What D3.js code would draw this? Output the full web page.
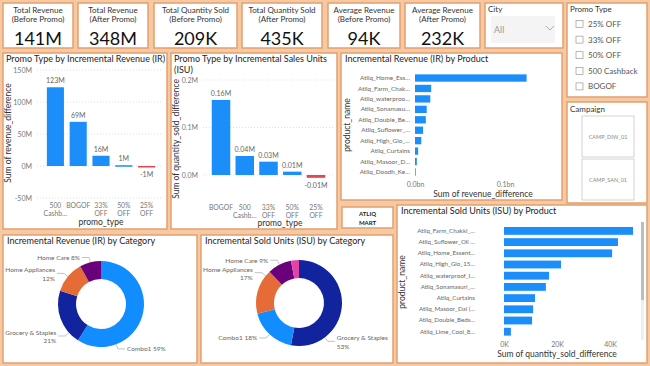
<!DOCTYPE html>
<html><head><meta charset="utf-8">
<script src="https://cdn.jsdelivr.net/npm/d3@7"></script>
<style>
html,body{margin:0;padding:0;background:#F7C9A2;}
svg{display:block;}
text{font-family:Lato,"DejaVu Sans",sans-serif;}
</style></head><body>
<svg id="c" width="650" height="366"></svg>
<script>
// ---------------- data ----------------
const kpiTitles = ["Total Revenue|(Before Promo)","Total Revenue|(After Promo)","Total Quantity Sold|(Before Promo)","Total Quantity Sold|(After Promo)","Average Revenue|(Before Promo)","Average Revenue|(After Promo)"];
const kpiValues = [141e6, 348e6, 209e3, 435e3, 94e3, 232e3];
const cityOptions = ["All"];
const promoOptions = ["25% OFF","33% OFF","50% OFF","500 Cashback","BOGOF"];
const campaigns = ["CAMP_DIW_01","CAMP_SAN_01"];

const irPromoTypes = ["500 Cashback","BOGOF","33% OFF","50% OFF","25% OFF"];
const irPromoValues = [123e6, 69e6, 16e6, 1.2e6, -1.1e6];
const irPromoTicks = [-50e6, 0, 50e6, 100e6, 150e6];

const isuPromoTypes = ["BOGOF","500 Cashback","33% OFF","50% OFF","25% OFF"];
const isuPromoValues = [158e3, 40e3, 28e3, 7e3, -6e3];
const isuPromoTicks = [0, 0.1e6, 0.2e6];

const irProducts = ["Atliq_Home_Ess…","Atliq_Farm_Chak…","Atliq_waterproo…","Atliq_Sonamasu…","Atliq_Double_Be…","Atliq_Suflower_…","Atliq_High_Glo_…","Atliq_Curtains","Atliq_Masoor_D…","Atliq_Doodh_Ke…"];
const irProductValues = [124e6, 18e6, 17e6, 13e6, 12e6, 9e6, 7e6, 3.5e6, 2e6, 0.8e6];
const irProductTicks = [0, 0.1e9];

const isuProducts = ["Atliq_Farm_Chakki_…","Atliq_Suflower_Oil …","Atliq_Home_Essent…","Atliq_High_Glo_15…","Atliq_waterproof_I…","Atliq_Sonamasuri_…","Atliq_Curtains","Atliq_Masoor_Dal (…","Atliq_Double_Beds…","Atliq_Lime_Cool_8…"];
const isuProductValues = [48.7e3, 43e3, 40.8e3, 21.5e3, 17e3, 15.8e3, 11.7e3, 11e3, 10.6e3, 2.6e3];
const isuProductTicks = [0, 20e3, 40e3];

const irCategories = ["Combo1","Grocery & Staples","Home Appliances","Home Care"];
const irCategoryShares = [59, 21, 12, 8];
const isuCategories = ["Grocery & Staples","Combo1","Home Appliances","Home Care","Personal Care"];
const isuCategoryShares = [53, 18, 17, 9, 3];

// ---------------- style ----------------
const BORDER = "#E2A06E", BLUE = "#1C8EFA", RED = "#E0474F";
const GRAY = "#666", DARK = "#252423";
const catColor = d3.scaleOrdinal()
  .domain(["Combo1","Grocery & Staples","Home Appliances","Home Care","Personal Care"])
  .range(["#118DFF","#12239E","#E66C37","#6B007B","#E044A7"]);

const svg = d3.select("#c");

function panel(x,y,w,h){
  svg.append("rect").attr("x",x).attr("y",y).attr("width",w).attr("height",h)
    .attr("fill","#fff").attr("stroke",BORDER).attr("stroke-width",1.5);
}
function txt(x,y,s,size,color,anchor,weight){
  return svg.append("text").attr("x",x).attr("y",y).text(s)
    .attr("font-size",size).attr("fill",color||DARK)
    .attr("text-anchor",anchor||"start").attr("font-weight",weight||"normal");
}
function fit(node,maxW){
  const t=d3.select(node); let s=t.text();
  if(node.getComputedTextLength()<=maxW) return;
  while(s.length>1 && node.getComputedTextLength()>maxW){ s=s.slice(0,-1); t.text(s.trimEnd()+"…"); }
}
const fmtKPI = v => v>=1e6 ? Math.round(v/1e6)+"M" : Math.round(v/1e3)+"K";

// ---------------- KPI cards ----------------
const cardX=[3,78,154,242,328,405], cardW=[70,70,83,80,72,75];
kpiTitles.forEach((t,i)=>{
  panel(cardX[i],3,cardW[i],45);
  const cx=cardX[i]+cardW[i]/2, L=t.split("|");
  txt(cx,12.5,L[0],8,"#333","middle");
  txt(cx,21.5,L[1],8,"#333","middle");
  txt(cx,45,fmtKPI(kpiValues[i]),18,"#111","middle");
});

// City slicer
panel(485,3,78,45);
txt(488,12,"City",8,"#333");
svg.append("rect").attr("x",491).attr("y",16).attr("width",64).attr("height",27).attr("fill","#F4F4F4");
txt(494,33,cityOptions[0],9,"#999");
svg.append("path").attr("d","M546,26 L550,30 L554,26").attr("fill","none").attr("stroke","#999").attr("stroke-width",0.8);

// Promo type slicer
panel(567,3,80,94);
txt(570,12,"Promo Type",8,"#333");
promoOptions.forEach((p,i)=>{
  const cy=24+i*15.6;
  svg.append("rect").attr("x",576).attr("y",cy-3.5).attr("width",7).attr("height",7)
    .attr("fill","#fff").attr("stroke","#888").attr("stroke-width",0.6);
  txt(588,cy+3,p,8,"#555");
});

// Campaign slicer
panel(567,102,80,101);
txt(570,112,"Campaign",8,"#333");
campaigns.forEach((c,i)=>{
  const y=116+i*43;
  svg.append("rect").attr("x",582).attr("y",y).attr("width",52).attr("height",41)
    .attr("fill","#fff").attr("stroke","#C8C8C8").attr("stroke-width",0.8);
  txt(608,y+22.5,c,5.5,"#888","middle");
});

// ATLIQ MART
panel(342,207,51,21);
txt(367.5,215.5,"ATLIQ",6,"#222","middle","bold");
txt(367.5,224.5,"MART",6,"#222","middle","bold");

// ---------------- vertical bar charts ----------------
function vbar(o){
  panel(o.px,o.py,o.pw,o.ph);
  o.title.forEach((t,i)=>txt(o.px+3,o.py+8.5+i*11,t,9,DARK));
  const x=d3.scaleBand().domain(o.cats).range(o.xr).paddingInner(o.pi).paddingOuter(o.po);
  const y=d3.scaleLinear().domain(o.yd).range(o.yr);
  const g=svg.append("g");
  g.selectAll("line.grid").data(o.ticks).join("line")
    .attr("x1",o.gx[0]).attr("x2",o.gx[1]).attr("y1",d=>y(d)).attr("y2",d=>y(d))
    .attr("stroke","#C8C8C8").attr("stroke-width",0.6).attr("stroke-dasharray","1,2");
  const ya=d3.axisLeft(y).tickValues(o.ticks).tickFormat(o.tf).tickSize(0).tickPadding(0);
  const yg=svg.append("g").attr("transform",`translate(${o.yax},0)`).call(ya);
  yg.select(".domain").remove();
  yg.selectAll("text").attr("font-size",7).attr("fill","#777").attr("font-family","Lato");
  g.selectAll("rect.bar").data(o.vals).join("rect")
    .attr("x",(d,i)=>x(o.cats[i])).attr("width",x.bandwidth())
    .attr("y",d=>y(Math.max(0,d))).attr("height",d=>Math.max(1.5,Math.abs(y(d)-y(0))))
    .attr("fill",d=>d<0?RED:BLUE);
  g.selectAll("text.dl").data(o.vals).join("text")
    .attr("x",(d,i)=>x(o.cats[i])+x.bandwidth()/2)
    .attr("y",d=>d>=0? y(d)-4 : y(d)+10)
    .attr("text-anchor","middle").attr("font-size",7).attr("fill",GRAY).text(o.lf);
  o.cats.forEach(c=>{
    const words=c.split(" ");
    const l1=words[0], l2=words.slice(1).join(" ");
    const cx=x(c)+x.bandwidth()/2;
    txt(cx,o.xly,l1,6.8,"#777","middle");
    if(l2){ const t=txt(cx,o.xly+7.5,l2,6.8,"#777","middle"); fit(t.node(),x.step()+2); }
  });
  txt(o.xtx,o.xty,"promo_type",8.5,"#333","middle");
  svg.append("text").attr("transform",`translate(${o.ytx},${o.yty}) rotate(-90)`)
    .attr("text-anchor","middle").attr("font-size",8.5).attr("fill","#333").text(o.ytitle);
}

vbar({px:3,py:53,pw:164,ph:176,title:["Promo Type by Incremental Revenue (IR)"],
  cats:irPromoTypes,vals:irPromoValues,ticks:irPromoTicks,
  xr:[44,158],pi:0.25,po:0.125,yd:[-50e6,150e6],yr:[198,70],gx:[37,163],yax:32,
  tf:d=>Math.round(d/1e6)+"M",lf:d=>Math.round(d/1e6)+"M",
  xly:208,xtx:101,xty:225,ytx:11,yty:133,ytitle:"Sum of revenue_difference"});

vbar({px:171,py:53,pw:166,ph:176,title:["Promo Type by Incremental Sales Units","(ISU)"],
  cats:isuPromoTypes,vals:isuPromoValues,ticks:isuPromoTicks,
  xr:[207,330],pi:0.22,po:0.2,yd:[-0.035e6,0.2e6],yr:[191.6,80],gx:[203,333],yax:198,
  tf:d=>(d/1e6).toFixed(1)+"M",lf:d=>(d/1e6).toFixed(2)+"M",
  xly:210,xtx:280,xty:226,ytx:179,yty:139,ytitle:"Sum of quantity_sold_difference"});

// ---------------- horizontal bar charts ----------------
function hbar(o){
  panel(o.px,o.py,o.pw,o.ph);
  txt(o.px+4,o.py+8.5,o.title,9,DARK);
  const y=d3.scaleBand().domain(o.cats).range(o.yr).paddingInner(0.3).paddingOuter(0.15);
  const x=d3.scaleLinear().domain(o.xd).range(o.xr);
  const g=svg.append("g");
  g.selectAll("rect").data(o.vals).join("rect")
    .attr("x",x(0)).attr("y",(d,i)=>y(o.cats[i])).attr("height",y.bandwidth())
    .attr("width",d=>x(d)-x(0)).attr("fill",BLUE);
  const ya=d3.axisLeft(y).tickSize(0).tickPadding(0);
  const yg=svg.append("g").attr("transform",`translate(${o.lx},0)`).call(ya);
  yg.select(".domain").remove();
  yg.selectAll("text").attr("font-size",o.lfs).attr("fill","#666").attr("font-family","Lato");
  const xa=d3.axisBottom(x).tickValues(o.ticks).tickFormat(o.tf).tickSize(0).tickPadding(0);
  const xg=svg.append("g").attr("transform",`translate(0,${o.tly})`).call(xa);
  xg.select(".domain").remove();
  xg.selectAll("text").attr("font-size",7).attr("fill","#777").attr("font-family","Lato");
  txt(o.xtx,o.xty,o.xtitle,8.5,"#333","middle");
  svg.append("text").attr("transform",`translate(${o.ytx},${o.yty}) rotate(-90)`)
    .attr("text-anchor","middle").attr("font-size",8.5).attr("fill","#333").text("product_name");
}

hbar({px:341,py:53,pw:221,ph:147,title:"Incremental Revenue (IR) by Product",
  cats:irProducts,vals:irProductValues,yr:[72.8,177.2],xd:[0,0.1e9],xr:[415,505],
  ticks:irProductTicks,tf:d=>(d/1e9).toFixed(1)+"bn",lx:410,lfs:6.4,tly:182,
  xtx:483,xty:197,xtitle:"Sum of revenue_difference",ytx:350,yty:125});

hbar({px:397,py:205,pw:250,ph:158,title:"Incremental Sold Units (ISU) by Product",
  cats:isuProducts,vals:isuProductValues,yr:[225.3,337.3],xd:[0,40e3],xr:[504,610],
  ticks:isuProductTicks,tf:d=>Math.round(d/1e3)+"K",lx:475,lfs:6.2,tly:342,
  xtx:557,xty:357,xtitle:"Sum of quantity_sold_difference",ytx:405,yty:282});
svg.append("rect").attr("x",641).attr("y",222).attr("width",3).attr("height",118).attr("fill","#EEEEEE");
svg.append("rect").attr("x",641).attr("y",222).attr("width",3).attr("height",78).attr("fill","#BDBDBD");

// ---------------- donuts ----------------
function donut(o){
  panel(o.px,o.py,o.pw,o.ph);
  txt(o.px+4,o.py+9,o.title,9,DARK);
  const R=43, r=25, FS=6.5;
  const pie=d3.pie().sort(null).value(d=>d.v);
  const data=pie(o.cats.map((c,i)=>({c,v:o.vals[i]})));
  const arc=d3.arc().innerRadius(r).outerRadius(R);
  const g=svg.append("g").attr("transform",`translate(${o.cx},${o.cy})`);
  g.selectAll("path").data(data).join("path").attr("d",arc).attr("fill",d=>catColor(d.data.c));
  data.forEach(d=>{
    if(d.data.v<5) return;
    const lab=d.data.c, pct=d.data.v+"%";
    const twoLine = lab.length>10;
    const lines = twoLine ? [lab,pct] : [lab+" "+pct];
    // measure needed width
    const m=txt(0,0,lines[0],FS,"#666"); const need=m.node().getComputedTextLength(); m.remove();
    const span=d.endAngle-d.startAngle;
    let a = d.data.v>50 ? d.startAngle+0.75*span : (d.startAngle+d.endAngle)/2;
    const geo = ang => {
      const s=Math.sin(ang), c=-Math.cos(ang), side=s>=0?1:-1;
      const ex=o.cx+(R+5)*s, ey=o.cy+(R+5)*c, lx=ex+side*7, tx=lx+side*2;
      const avail = side>0 ? (o.px+o.pw-2-tx) : (tx-(o.px+2));
      return {s,c,side,ex,ey,lx,tx,avail};
    };
    // slide the anchor away from the horizontal when the label lacks room
    const dir = (Math.sin(a)>=0) === (-Math.cos(a)>=0) ? 1 : -1;
    const step=Math.PI/180;
    for(let k=0;k<24 && geo(a).avail<need;k++) a += dir*step;
    const G=geo(a);
    const ax=o.cx+R*G.s, ay=o.cy+R*G.c;
    svg.append("path").attr("d",`M${ax},${ay} L${G.ex},${G.ey} L${G.lx},${G.ey}`)
      .attr("fill","none").attr("stroke","#999").attr("stroke-width",0.6);
    const anchor=G.side>0?"start":"end";
    if(twoLine){
      const t=txt(G.tx,G.ey-1,lines[0],FS,"#666",anchor); fit(t.node(),G.avail);
      txt(G.tx,G.ey+7.5,lines[1],FS,"#666",anchor);
    } else {
      const t=txt(G.tx,G.ey+2.5,lines[0],FS,"#666",anchor); fit(t.node(),G.avail);
    }
  });
}
donut({px:3,py:235,pw:194,ph:128,title:"Incremental Revenue (IR) by Category",
  cats:irCategories,vals:irCategoryShares,cx:101,cy:304});
donut({px:201,py:235,pw:192,ph:128,title:"Incremental Sold Units (ISU) by Category",
  cats:isuCategories,vals:isuCategoryShares,cx:299,cy:303});
</script>
</body></html>
